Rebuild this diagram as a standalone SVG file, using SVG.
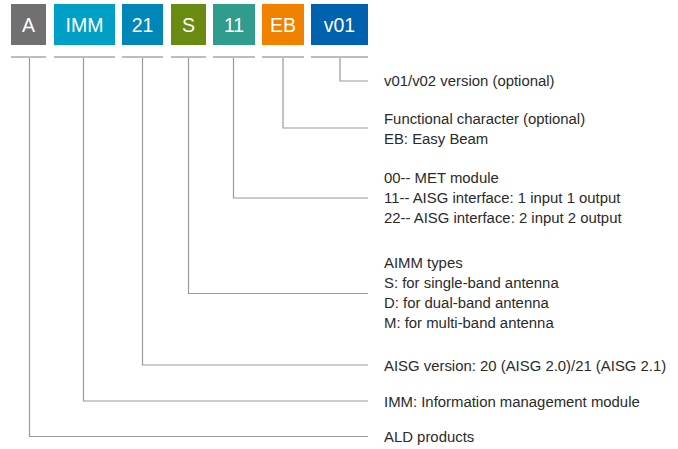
<svg xmlns="http://www.w3.org/2000/svg" width="678" height="449" viewBox="0 0 678 449">
  <style>
    .code { font-family: "Liberation Sans", Arial, sans-serif; font-size: 19.5px; fill: #ffffff; text-anchor: middle; }
    .desc { font-family: "Liberation Sans", Arial, sans-serif; font-size: 14.9px; fill: #2b2b2b; }
    .bar { fill: #bdbdbd; }
    .lead { fill: none; stroke: #9a9a9a; stroke-width: 1.2; }
  </style>
  <rect width="678" height="449" fill="#ffffff"/>

  <!-- code segments -->
  <g id="seg-A">
    <rect x="11" y="4" width="35" height="41" fill="#707070"/>
    <text class="code" x="28.5" y="32">A</text>
    <rect class="bar" x="11" y="56" width="35" height="2"/>
  </g>
  <g id="seg-IMM">
    <rect x="54" y="4" width="61" height="41" fill="#00a0c6"/>
    <text class="code" x="84.5" y="32">IMM</text>
    <rect class="bar" x="54" y="56" width="61" height="2"/>
  </g>
  <g id="seg-21">
    <rect x="122" y="4" width="41" height="41" fill="#0087b7"/>
    <text class="code" x="142.5" y="32">21</text>
    <rect class="bar" x="122" y="56" width="41" height="2"/>
  </g>
  <g id="seg-S">
    <rect x="171" y="4" width="35" height="41" fill="#6a8b12"/>
    <text class="code" x="188.5" y="32">S</text>
    <rect class="bar" x="171" y="56" width="35" height="2"/>
  </g>
  <g id="seg-11">
    <rect x="213" y="4" width="42" height="41" fill="#2f9c8d"/>
    <text class="code" x="234" y="32">11</text>
    <rect class="bar" x="213" y="56" width="42" height="2"/>
  </g>
  <g id="seg-EB">
    <rect x="262" y="4" width="42" height="41" fill="#f08200"/>
    <text class="code" x="283" y="32">EB</text>
    <rect class="bar" x="262" y="56" width="42" height="2"/>
  </g>
  <g id="seg-v01">
    <rect x="311" y="4" width="57" height="41" fill="#0061ae"/>
    <text class="code" x="339.5" y="32">v01</text>
    <rect class="bar" x="311" y="56" width="57" height="2"/>
  </g>

  <!-- leader lines -->
  <g id="connectors">
    <path class="lead" d="M340 58 V81 H368"/>
    <path class="lead" d="M283 58 V128 H368"/>
    <path class="lead" d="M233.5 58 V198 H368"/>
    <path class="lead" d="M188.5 58 V293.5 H368"/>
    <path class="lead" d="M142.5 58 V365 H368"/>
    <path class="lead" d="M83.5 58 V401 H368"/>
    <path class="lead" d="M29.5 58 V436.5 H368"/>
  </g>

  <!-- descriptions -->
  <g id="desc-v01">
    <text class="desc" x="384" y="86">v01/v02 version (optional)</text>
  </g>
  <g id="desc-EB">
    <text class="desc" x="384" y="123.5">Functional character (optional)</text>
    <text class="desc" x="384" y="143.5">EB: Easy Beam</text>
  </g>
  <g id="desc-11">
    <text class="desc" x="384" y="183">00-- MET module</text>
    <text class="desc" x="384" y="203">11-- AISG interface: 1 input 1 output</text>
    <text class="desc" x="384" y="223">22-- AISG interface: 2 input 2 output</text>
  </g>
  <g id="desc-S">
    <text class="desc" x="384" y="267.5">AIMM types</text>
    <text class="desc" x="384" y="287.5">S: for single-band antenna</text>
    <text class="desc" x="384" y="307.5">D: for dual-band antenna</text>
    <text class="desc" x="384" y="327.5">M: for multi-band antenna</text>
  </g>
  <g id="desc-21">
    <text class="desc" x="384" y="370.5">AISG version: 20 (AISG 2.0)/21 (AISG 2.1)</text>
  </g>
  <g id="desc-IMM">
    <text class="desc" x="384" y="406.5">IMM: Information management module</text>
  </g>
  <g id="desc-A">
    <text class="desc" x="384" y="442">ALD products</text>
  </g>
</svg>
